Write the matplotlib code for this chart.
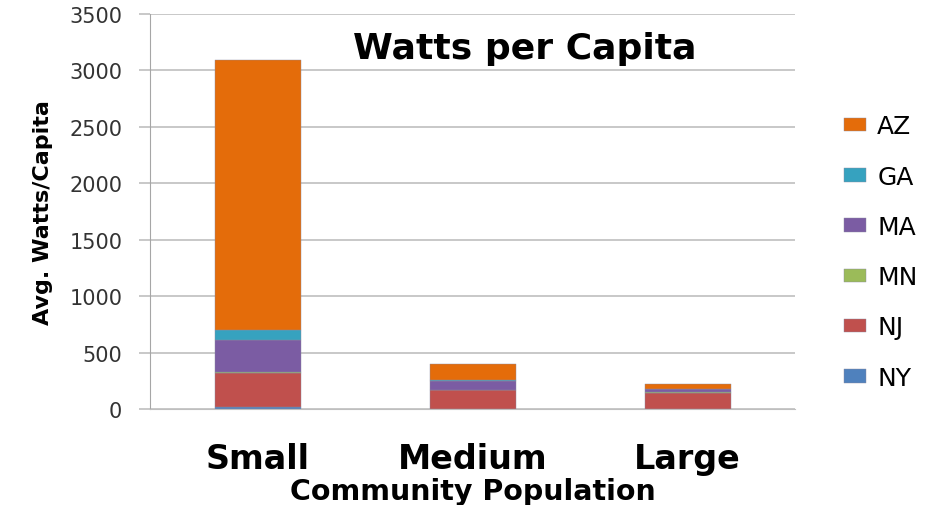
import numpy as np
import matplotlib.pyplot as plt

categories = ["Small", "Medium", "Large"]
states = ["NY", "NJ", "MN", "MA", "GA", "AZ"]
NY = [20, 3, 2]
NJ = [300, 167, 143]
MN = [5, 2, 2]
MA = [290, 73, 30]
GA = [85, 8, 3]
AZ = [2390, 147, 42]
values = [NY, NJ, MN, MA, GA, AZ]
colors = ["#4F81BD", "#C0504D", "#9BBB59", "#7B5CA3", "#36A2BF", "#E46C0A"]

plt.rcParams['font.family'] = ['DejaVu Sans']

fig = plt.figure(figsize=(9.49, 5.06), dpi=100)
ax = fig.add_axes([150 / 949, 1 - 410 / 506, 645 / 949, 395 / 506])

x = np.arange(len(categories))
bottom = np.zeros(len(categories))
handles = []
for name, vals, c in zip(states, values, colors):
    b = ax.bar(x, vals, bottom=bottom, width=0.4, color=c, label=name,
               edgecolor='#8a8aa0', linewidth=0.3)
    handles.append(b)
    bottom += np.array(vals)

ax.set_xlim(-0.5, 2.5)
ax.set_ylim(0, 3500)
ax.set_yticks(np.arange(0, 3501, 500))
ax.yaxis.grid(True, color='#bfbfbf', linewidth=1.2)
ax.set_axisbelow(True)
for s in ['top', 'right']:
    ax.spines[s].set_visible(False)
ax.spines['left'].set_color('#a6a6a6')
ax.spines['bottom'].set_color('#bfbfbf')
ax.tick_params(axis='y', labelsize=15, colors='#bfbfbf', labelcolor='#333333',
               length=8, width=1.2, pad=12)
ax.tick_params(axis='x', length=0, labelsize=24, pad=24)
ax.set_xticks(x)
ax.set_xticklabels(categories, fontweight='bold')
ax.set_xlabel("Community Population", fontsize=20.5, fontweight='bold', labelpad=1)
ax.set_ylabel("Avg. Watts/Capita", fontsize=16, fontweight='bold', labelpad=12)
ax.text(0.581, 0.915, "Watts per Capita", transform=ax.transAxes, ha='center',
        va='center', fontsize=26, fontweight='bold')

leg = fig.legend(handles[::-1], states[::-1], loc='upper left',
                 bbox_to_anchor=(821 / 949, 1 - 93 / 506), frameon=False,
                 labelspacing=1.05, handlelength=0.9,
                 handleheight=0.45, handletextpad=0.45,
                 prop={'family': 'DejaVu Sans', 'size': 18})

plt.savefig("out.png", dpi=100)
